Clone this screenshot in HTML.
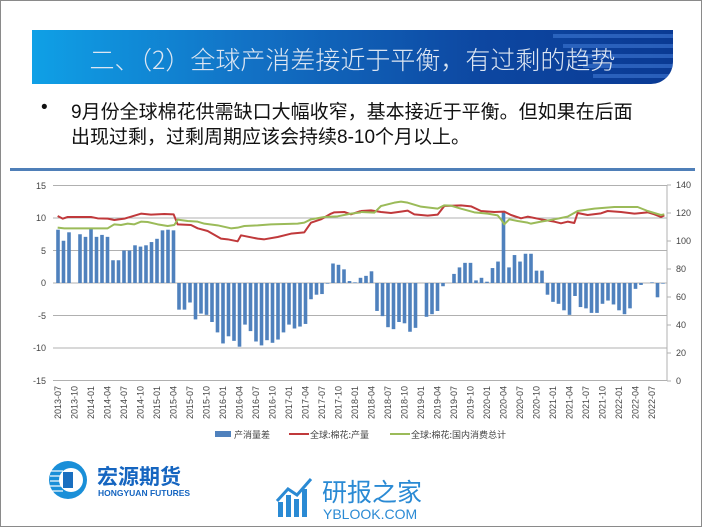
<!DOCTYPE html>
<html><head><meta charset="utf-8"><style>
body{margin:0;background:#fff}
#s{position:relative;width:702px;height:527px;overflow:hidden;background:#fff;box-sizing:border-box;border:1px solid #8a8a8a;font-family:"Liberation Sans","Noto Sans CJK SC",sans-serif}
#ban{position:absolute;left:31px;top:29px;width:641px;height:54px;border-bottom-right-radius:22px;background:linear-gradient(90deg,#0fa0e6 0%,#1270c4 35%,#0d47a1 70%,#0a3a94 100%);overflow:hidden}
#ban .st{position:absolute;right:0;height:4px;background:rgba(80,140,230,.45)}
#title{position:absolute;left:0;width:641px;top:11px;text-align:center;color:#dde6f2;font-size:25px;font-family:"Noto Sans CJK SC",sans-serif;font-weight:300}
.tx{position:absolute;font-size:19px;color:#111;font-family:"Liberation Sans","Noto Sans CJK SC",sans-serif}
</style></head><body><div id="s">
<div id="ban">
<div class="st" style="top:4px;width:120px"></div>
<div class="st" style="top:14px;width:110px"></div>
<div class="st" style="top:24px;width:100px"></div>
<div class="st" style="top:34px;width:90px"></div>
<div class="st" style="top:44px;width:80px"></div>
<div id="title">二、（2）全球产消差接近于平衡，有过剩的趋势</div>
</div>
<div class="tx" style="left:40px;top:96px">•</div>
<div class="tx" style="left:70px;top:96px">9月份全球棉花供需缺口大幅收窄，基本接近于平衡。但如果在后面</div>
<div class="tx" style="left:70px;top:121px">出现过剩，过剩周期应该会持续8-10个月以上。</div>
<svg width="702" height="527" style="position:absolute;left:0;top:0" font-family="Liberation Sans, sans-serif" font-size="9" fill="#444">
<rect x="9" y="167" width="685" height="3" fill="#4f7fb8"/>
<g stroke="#b0b0b0" stroke-width="1">
<line x1="52" x2="666" y1="184.5" y2="184.5"/><line x1="52" x2="666" y1="217" y2="217"/><line x1="52" x2="666" y1="249.5" y2="249.5"/><line x1="52" x2="666" y1="282" y2="282"/><line x1="52" x2="666" y1="314.5" y2="314.5"/><line x1="52" x2="666" y1="347" y2="347"/><line x1="52" x2="666" y1="379.5" y2="379.5"/>
<line x1="666" x2="666" y1="184" y2="380"/>
</g>
<g stroke="#b0b0b0"><line x1="666" x2="670" y1="184" y2="184"/><line x1="666" x2="670" y1="212" y2="212"/><line x1="666" x2="670" y1="240" y2="240"/><line x1="666" x2="670" y1="268" y2="268"/><line x1="666" x2="670" y1="296" y2="296"/><line x1="666" x2="670" y1="324" y2="324"/><line x1="666" x2="670" y1="352" y2="352"/><line x1="666" x2="670" y1="380" y2="380"/></g>
<g text-anchor="end"><text x="45" y="188">15</text><text x="45" y="220">10</text><text x="45" y="253">5</text><text x="45" y="285">0</text><text x="45" y="318">-5</text><text x="45" y="350">-10</text><text x="45" y="383">-15</text></g>
<g><text x="675" y="187">140</text><text x="675" y="215">120</text><text x="675" y="243">100</text><text x="675" y="271">80</text><text x="675" y="299">60</text><text x="675" y="327">40</text><text x="675" y="355">20</text><text x="675" y="383">0</text></g>
<g id="bars" fill="#4f81bd"></g>
<g id="xl" text-anchor="end"></g>
<g fill="none" stroke-width="2" stroke-linejoin="round">
<g transform="translate(30,170) scale(0.3333)"><polyline vector-effect="non-scaling-stroke" stroke="#c0393b" points="80,135 95,143 110,138 180,138 200,142 230,143 250,147 280,143 300,137 330,128 360,131 400,129 428,130 440,160 480,162 500,172 530,180 570,203 590,205 620,211 630,193 680,203 700,205 740,198 780,188 820,184 840,155 870,145 900,128 910,124 940,123 960,130 990,120"/>
<polyline vector-effect="non-scaling-stroke" stroke="#9bbb59" points="80,170 100,172 200,172 230,172 250,160 270,162 290,158 310,160 330,152 350,153 380,160 410,165 430,162 440,146 470,150 500,152 520,158 560,163 600,172 620,170 640,165 680,163 720,160 800,158 820,155 840,145 880,138 920,136 960,128 990,124"/></g>
<g transform="translate(360,170) scale(0.3333)"><polyline vector-effect="non-scaling-stroke" stroke="#c0393b" points="0,120 30,118 60,123 90,126 120,122 140,119 160,130 200,134 230,131 250,105 300,103 330,106 360,120 400,123 430,122 450,132 480,142 500,137 540,145 580,152 600,157 620,152 640,156 650,126 680,132 720,127 740,120 780,123 820,128 860,124 880,130 900,138 910,133"/>
<polyline vector-effect="non-scaling-stroke" stroke="#9bbb59" points="0,123 40,125 60,105 100,95 120,92 140,95 180,107 230,113 250,103 270,104 300,113 340,124 380,128 410,133 420,145 430,160 445,145 470,150 500,155 510,158 540,152 580,145 620,137 650,120 700,113 760,108 800,108 830,108 860,120 900,132 910,130"/></g>
</g>
<rect x="214" y="430" width="16" height="6" fill="#4f81bd"/><text x="233" y="437" font-family="Noto Sans CJK SC, sans-serif">产消量差</text>
<rect x="288" y="432" width="20" height="2" fill="#c0393b"/><text x="309" y="437" font-family="Noto Sans CJK SC, sans-serif">全球:棉花:产量</text>
<rect x="389" y="432" width="20" height="2" fill="#9bbb59"/><text x="410" y="437" font-family="Noto Sans CJK SC, sans-serif">全球:棉花:国内消费总计</text>
<circle cx="67" cy="479" r="19" fill="#1a8fd8"/><circle cx="70" cy="479" r="12" fill="#fff"/><rect x="62" y="471" width="10" height="16" fill="#1a6fc0"/>
<g stroke="#fff" stroke-width="1.2"><line x1="50" x2="62" y1="470" y2="470"/><line x1="49" x2="62" y1="475" y2="475"/><line x1="49" x2="62" y1="480" y2="480"/><line x1="49" x2="62" y1="485" y2="485"/><line x1="50" x2="62" y1="490" y2="490"/></g>
<text x="96" y="483" font-size="21" font-weight="bold" fill="#1565c0" font-family="Noto Sans CJK SC, sans-serif">宏源期货</text>
<text x="97" y="495" font-size="8.5" font-weight="bold" fill="#1565c0">HONGYUAN FUTURES</text>
<g fill="#2a8ad4"><rect x="277" y="501" width="5" height="15"/><rect x="285" y="494" width="5" height="22"/><rect x="293" y="498" width="5" height="18"/><rect x="301" y="488" width="5" height="28"/></g>
<polyline points="276,500 287,488 296,494 310,478" fill="none" stroke="#2a8ad4" stroke-width="3"/>
<text x="321" y="500" font-size="25" fill="#2a8ad4" font-family="Noto Sans CJK SC, sans-serif">研报之家</text>
<text x="322" y="518" font-size="14" fill="#2a8ad4">YBLOOK.COM</text>
</svg>
<script>
var v=[8.2,6.5,7.8,0,7.5,7.1,8.3,7.1,7.4,7.1,3.5,3.5,5,5,5.8,5.6,5.8,6.3,6.8,8.1,8.2,8.1,
-4.1,-4.1,-3,-5.6,-4.7,-4.9,-6,-7.6,-9.3,-8.2,-8.9,-9.8,-6.4,-7.4,-9,-9.6,-8.8,-9.2,-8.7,-7.6,-6.4,-7,-6.7,-6.3,-2.5,-1.8,-1.7,-0.1,
3,2.8,2.1,0.3,0.1,0.8,1.1,1.8,-4.3,-5.1,-6.8,-7.1,-6,-6.2,-7.5,-6.9,0,-5.2,-4.8,-4.3,-0.5,0,1.4,2.4,3.1,3.1,0.4,0.8,0.2,2.3,3.3,
11,2.4,4.3,3.3,4.5,4.5,1.9,1.9,-1.8,-2.9,-3.2,-4.2,-4.9,-2,-3.7,-3.9,-4.6,-4.6,-3.2,-2.7,-3.3,-4.2,-4.8,-3.9,-0.9,-0.3,0,0.1,-2.2,-0.1];
var g=document.getElementById("bars"),h="";
for(var i=0;i<v.length;i++){var x=57+5.5*i-1.8,y0=282,y1=282-v[i]*6.5;h+='<rect x="'+x+'" y="'+Math.min(y0,y1)+'" width="3.6" height="'+Math.abs(y1-y0)+'"/>';}
g.innerHTML=h;
var xl="";for(var k=0;k<=36;k++){var m=k*3,yr=2013+Math.floor((6+m)/12),mo=(6+m)%12+1;var x=57+5.5*m+3;
xl+='<text transform="translate('+x+',385) rotate(-90)">'+yr+'-'+(mo<10?'0':'')+mo+'</text>';}
document.getElementById("xl").innerHTML=xl;
</script>
</div></body></html>
